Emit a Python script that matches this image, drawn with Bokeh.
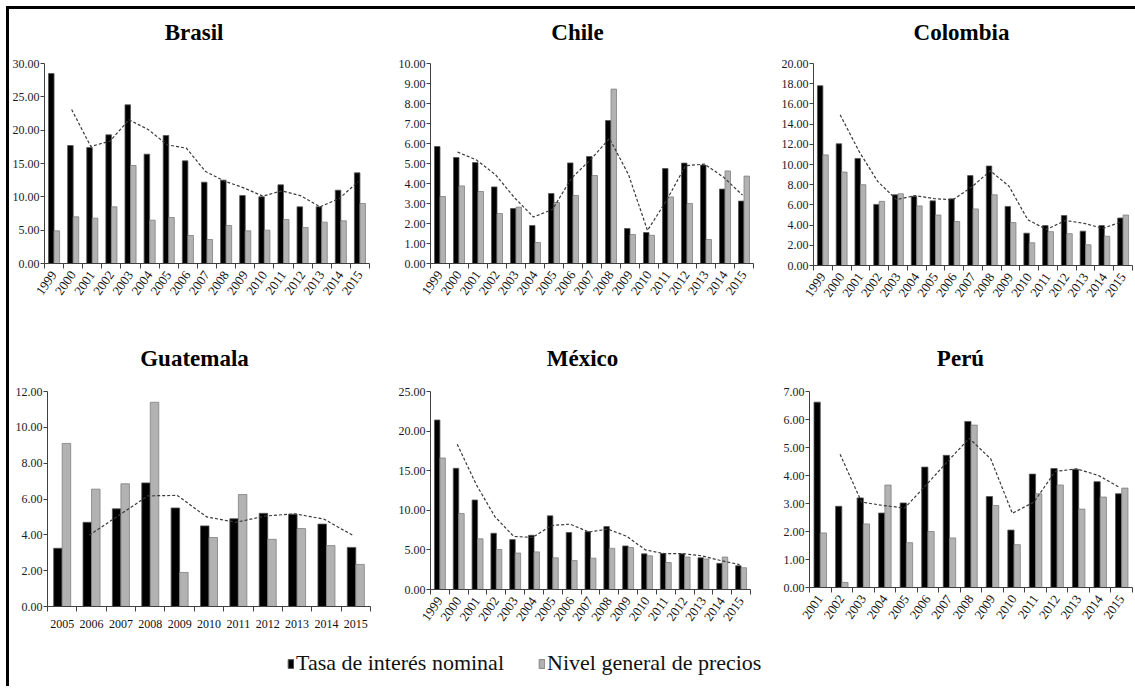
import numpy as np
from bokeh.plotting import figure
from bokeh.models import (Range1d, FixedTicker, PrintfTickFormatter, ColumnDataSource,
                          Legend, LegendItem)
from bokeh.core.properties import value
from bokeh.layouts import row, column
from bokeh.embed import file_html
from bokeh.resources import INLINE

# ---------------- data ----------------
series_names = ["Tasa de interés nominal", "Nivel general de precios"]

brasil_years = list(range(1999, 2016))
brasil_tasa = [28.5, 17.7, 17.4, 19.3, 23.8, 16.4, 19.2, 15.4, 12.2, 12.5, 10.2, 10.0, 11.8, 8.5, 8.5, 11.0, 13.6]
brasil_precios = [4.9, 7.0, 6.8, 8.5, 14.7, 6.5, 6.9, 4.2, 3.6, 5.7, 4.9, 5.0, 6.6, 5.4, 6.2, 6.4, 9.0]

chile_years = list(range(1999, 2016))
chile_tasa = [5.85, 5.3, 5.05, 3.83, 2.75, 1.9, 3.5, 5.03, 5.35, 7.15, 1.75, 1.55, 4.75, 5.02, 4.92, 3.72, 3.12]
chile_precios = [3.35, 3.88, 3.6, 2.5, 2.82, 1.05, 3.05, 3.4, 4.4, 8.72, 1.45, 1.41, 3.33, 3.0, 1.2, 4.63, 4.37]

colombia_years = list(range(1999, 2016))
colombia_tasa = [17.8, 12.05, 10.6, 6.05, 7.0, 6.85, 6.4, 6.6, 8.9, 9.85, 5.85, 3.2, 3.95, 4.95, 3.4, 3.95, 4.7]
colombia_precios = [10.95, 9.25, 8.0, 6.35, 7.1, 5.9, 5.0, 4.35, 5.6, 7.0, 4.25, 2.25, 3.35, 3.15, 2.05, 2.9, 5.0]

guatemala_years = list(range(2005, 2016))
guatemala_tasa = [3.25, 4.7, 5.45, 6.9, 5.5, 4.5, 4.9, 5.2, 5.15, 4.6, 3.3]
guatemala_precios = [9.1, 6.55, 6.85, 11.4, 1.9, 3.85, 6.25, 3.75, 4.35, 3.4, 2.35]

mexico_years = list(range(1999, 2016))
mexico_tasa = [21.4, 15.3, 11.3, 7.1, 6.3, 6.85, 9.3, 7.2, 7.3, 7.95, 5.5, 4.5, 4.55, 4.5, 4.0, 3.3, 3.0]
mexico_precios = [16.6, 9.6, 6.4, 5.05, 4.6, 4.75, 4.0, 3.65, 3.95, 5.2, 5.3, 4.25, 3.4, 4.1, 3.85, 4.1, 2.75]

peru_years = list(range(2001, 2016))
peru_tasa = [6.62, 2.9, 3.2, 2.66, 3.02, 4.3, 4.72, 5.93, 3.25, 2.05, 4.05, 4.25, 4.22, 3.78, 3.35]
peru_precios = [1.95, 0.18, 2.27, 3.66, 1.6, 2.0, 1.77, 5.8, 2.93, 1.53, 3.35, 3.66, 2.8, 3.23, 3.55]

# ---------------- style ----------------
FONT = "Liberation Serif"
BLACK = "#000000"
GRAY = "#b2b2b2"


def moving_avg2(vals):
    # 2-period moving average trendline of the interest-rate series (as in the original chart)
    a = np.asarray(vals, dtype=float)
    out = np.full(len(a), np.nan)
    out[1:] = (a[1:] + a[:-1]) / 2.0
    return out


def panel(name, years, tasa, precios, ymax, ystep, width, height,
          bl, br, bb, top_gap, data_px, title_px, title_rise, rotate=True):
    """top_gap: pixels between frame top and the ymax level; data_px: pixel height of 0..ymax;
    title_px: title centre from frame left; title_rise: title baseline above ymax level."""
    n = len(years)
    bt = 5
    frame_w = width - bl - br
    y_end = ymax * (data_px + top_gap) / data_px
    p = figure(width=width, height=height, x_range=Range1d(0, n), y_range=Range1d(0, y_end),
               output_backend="svg", toolbar_location=None, title_location=None,
               min_border_left=bl, min_border_right=br, min_border_top=bt, min_border_bottom=bb)
    p.xgrid.visible = False
    p.ygrid.visible = False
    p.outline_line_color = None
    p.background_fill_color = "white"
    p.border_fill_color = "white"

    idx = np.arange(n)
    src = ColumnDataSource(dict(xb=idx + 0.355, xg=idx + 0.645, xt=idx + 0.42,
                                tasa=tasa, precios=precios, trend=moving_avg2(tasa)))
    p.vbar(x="xb", top="tasa", width=0.29, bottom=0, source=src,
           fill_color=BLACK, line_color="#555555", line_width=0.8)
    p.vbar(x="xg", top="precios", width=0.29, bottom=0, source=src,
           fill_color=GRAY, line_color="#808080", line_width=0.8)
    p.line(x="xt", y="trend", source=src, line_color="#3a3a3a", line_width=1.2,
           line_dash="3 2")

    # panel title
    tx = title_px / frame_w * n
    ty = ymax * (data_px + title_rise) / data_px
    p.text(x=[tx], y=[ty], text=[name], text_align="center", text_baseline="alphabetic",
           text_font=value(FONT), text_font_size=value("23px"), text_font_style="bold",
           text_color="#000000")

    # y axis
    ya = p.yaxis[0]
    ya.bounds = (0, ymax)
    ya.ticker = FixedTicker(ticks=list(np.arange(0, ymax + 1e-9, ystep)), minor_ticks=[])
    ya.formatter = PrintfTickFormatter(format="%.2f")
    ya.major_label_text_font = FONT
    ya.major_label_text_font_size = "12px"
    ya.major_label_text_color = "#1a1a2a"
    ya.axis_line_color = "#404040"
    ya.major_tick_line_color = "#404040"
    ya.major_tick_out = 4
    ya.major_tick_in = 0
    ya.minor_tick_out = 0
    ya.minor_tick_in = 0
    ya.major_label_standoff = 1

    # x axis: labels at category centres, tick marks on category boundaries
    xa = p.xaxis[0]
    centres = [float(i) + 0.5 for i in range(n)]
    xa.ticker = FixedTicker(ticks=centres, minor_ticks=[float(i) for i in range(n + 1)])
    xa.major_label_overrides = {c: str(y) for c, y in zip(centres, years)}
    xa.major_tick_out = 0
    xa.major_tick_in = 0
    xa.minor_tick_out = 5
    xa.minor_tick_in = 0
    xa.minor_tick_line_color = "#404040"
    xa.axis_line_color = "#404040"
    xa.major_label_text_font = FONT
    xa.major_label_text_color = "#111111"
    if rotate:
        xa.major_label_text_font_size = "13px"
        xa.major_label_orientation = 0.96
        xa.major_label_standoff = 4
    else:
        xa.major_label_text_font_size = "12px"
        xa.major_label_standoff = 8
    return p


# top row: figure top at page y 9, frame top at 14, ymax level at y 63
p1 = panel("Brasil", brasil_years, brasil_tasa, brasil_precios, 30, 5, 376, 311, 34, 16, 57, 49, 200, 150, 31)
p2 = panel("Chile", chile_years, chile_tasa, chile_precios, 10, 1, 380, 311, 45, 12, 57, 49, 200, 147, 31)
p3 = panel("Colombia", colombia_years, colombia_tasa, colombia_precios, 20, 2, 370, 311, 48, 3, 55, 49, 202,
           148, 31)
# bottom row: figure top at page y 320, frame top at 325, ymax level at y 391
p4 = panel("Guatemala", guatemala_years, guatemala_tasa, guatemala_precios, 12, 2, 376, 311, 38, 15, 25, 66,
           215, 147, 33, rotate=False)
p5 = panel("México", mexico_years, mexico_tasa, mexico_precios, 25, 5, 380, 311, 45, 15, 42, 66, 198, 152, 33)
p6 = panel("Perú", peru_years, peru_tasa, peru_precios, 7, 1, 370, 311, 44, 3, 44, 66, 196, 151, 33)

# legend strip
lg = figure(width=1126, height=55, x_range=Range1d(0, 1), y_range=Range1d(0, 1),
            output_backend="svg", toolbar_location=None, title_location=None, min_border=0)
lg.axis.visible = False
lg.xgrid.visible = False
lg.ygrid.visible = False
lg.outline_line_color = None
# swatch renderers (their single point lies outside the visible range; only the legend shows them)
r1 = lg.vbar(x=[-5], top=[-5], width=0.1, fill_color=BLACK, line_color="#555555")
r2 = lg.vbar(x=[-5], top=[-5], width=0.1, fill_color=GRAY, line_color="#808080")
legend = Legend(items=[LegendItem(label=series_names[0], renderers=[r1]),
                       LegendItem(label=series_names[1], renderers=[r2])],
                orientation="horizontal", location=(278, 10),
                glyph_width=7, glyph_height=11, label_standoff=2, spacing=34,
                label_text_font=FONT, label_text_font_size="22px", label_text_color="#111111",
                padding=0, margin=0, border_line_color=None, background_fill_alpha=0)
lg.add_layout(legend)

# each panel wrapped in its own column so that the row does not align their frames
top_row = row(column(p1), column(p2), column(p3))
bottom_row = row(column(p4), column(p5), column(p6))
layout = column(top_row, bottom_row, lg,
                styles={"margin-left": "6px", "margin-top": "6px",
                        "border-left": "3px solid black", "border-top": "3px solid black"})

open("out.html", "w").write(file_html(layout, INLINE))
